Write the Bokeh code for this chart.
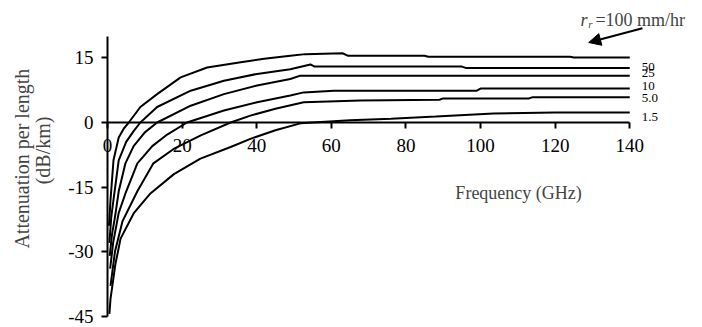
from bokeh.plotting import figure
from bokeh.models import Range1d, FixedTicker, Label, Arrow, NormalHead, PrintfTickFormatter
from bokeh.embed import file_html
from bokeh.resources import INLINE
import math

# ---- data ----
f_100 = [0.4, 0.8, 1.6, 3.0, 4.3, 5.7, 8.8, 13.3, 19.6, 26.7, 35.7, 42.0, 49.0, 53.0, 63.0, 64.5, 85.0, 86.0, 124.0, 125.0, 140.0]
v_100 = [-24.0, -18.0, -8.8, -3.5, -1.5, 0.0, 3.6, 6.6, 10.5, 12.8, 14.0, 14.8, 15.5, 15.9, 16.1, 15.5, 15.5, 15.3, 15.3, 15.1, 15.1]

f_50 = [0.5, 1.0, 1.6, 3.0, 5.0, 7.0, 8.8, 13.3, 22.3, 31.2, 40.1, 49.0, 54.4, 55.5, 95.0, 96.0, 140.0]
v_50 = [-28.0, -22.0, -18.0, -8.8, -4.5, -2.0, 0.0, 3.6, 7.4, 9.7, 11.3, 12.4, 13.5, 13.0, 13.0, 12.7, 12.7]

f_25 = [0.6, 1.2, 2.0, 3.0, 4.8, 7.0, 10.0, 13.3, 22.3, 31.2, 40.1, 49.0, 51.7, 140.0]
v_25 = [-31.0, -26.0, -22.0, -16.0, -9.5, -5.5, -2.3, 0.0, 3.9, 6.6, 8.6, 10.1, 10.9, 10.9]

f_10 = [0.7, 1.5, 3.0, 4.8, 8.0, 12.0, 16.0, 21.3, 31.2, 40.1, 49.0, 52.6, 60.7, 99.0, 100.0, 140.0]
v_10 = [-34.0, -28.0, -21.0, -16.5, -9.5, -5.5, -2.8, 0.0, 2.8, 4.7, 6.3, 7.0, 7.4, 7.4, 7.9, 7.9]

f_5 = [0.8, 2.0, 4.0, 8.0, 12.3, 18.0, 25.0, 33.0, 38.3, 45.0, 52.6, 67.8, 89.0, 90.0, 113.0, 114.0, 140.0]
v_5 = [-38.0, -30.0, -23.0, -16.0, -9.5, -6.0, -3.0, 0.0, 1.6, 3.2, 4.7, 5.1, 5.3, 5.6, 5.6, 5.9, 5.9]

f_15 = [0.5, 0.8, 2.1, 3.5, 7.1, 11.5, 17.8, 24.9, 33.0, 38.3, 45.0, 51.7, 65.0, 76.0, 88.0, 103.5, 120.0, 140.0]
v_15 = [-44.5, -41.0, -33.0, -27.0, -21.0, -16.5, -12.0, -8.4, -5.7, -3.8, -1.8, -0.2, 0.5, 0.9, 1.4, 2.1, 2.3, 2.3]

curve_labels = ["50", "25", "10", "5.0", "1.5"]
curve_label_y = [13.0, 11.6, 8.6, 5.6, 1.2]

x_ticks = [0, 20, 40, 60, 80, 100, 120, 140]
y_ticks = [-45, -30, -15, 0, 15]

FONT = "Liberation Serif"

p = figure(width=702, height=327, output_backend="svg", toolbar_location=None,
           x_range=Range1d(-28.69, 159.5), y_range=Range1d(-47.67, 28.37),
           min_border=0, min_border_left=0, min_border_right=0,
           min_border_top=0, min_border_bottom=0)
p.outline_line_color = None
p.xgrid.visible = False
p.ygrid.visible = False
p.background_fill_color = "white"
p.border_fill_color = "white"

# axes crossing at the origin
xa = p.xaxis[0]
xa.fixed_location = 0
xa.bounds = (0, 140)
xa.ticker = FixedTicker(ticks=x_ticks)
xa.formatter = PrintfTickFormatter(format="%d")
xa.minor_tick_line_color = None
xa.major_tick_in = 0
xa.major_tick_out = 6
xa.axis_line_width = 2
xa.major_tick_line_width = 2
xa.major_label_text_font = FONT
xa.major_label_text_font_size = "19px"
xa.major_label_text_color = "black"
xa.major_label_standoff = 10

ya = p.yaxis[0]
ya.fixed_location = 0
ya.bounds = (-45, 20)
ya.ticker = FixedTicker(ticks=y_ticks)
ya.formatter = PrintfTickFormatter(format="%d")
ya.minor_tick_line_color = None
ya.major_tick_in = 0
ya.major_tick_out = 6
ya.axis_line_width = 2
ya.major_tick_line_width = 2
ya.major_label_text_font = FONT
ya.major_label_text_font_size = "19px"
ya.major_label_text_color = "black"
ya.major_label_standoff = 8

for fx, vy in [(f_100, v_100), (f_50, v_50), (f_25, v_25), (f_10, v_10), (f_5, v_5), (f_15, v_15)]:
    p.line(fx, vy, line_color="black", line_width=2)

for t, yy in zip(curve_labels, curve_label_y):
    p.add_layout(Label(x=143.2, y=yy, text=t, text_font=FONT, text_font_size="13px",
                       text_baseline="middle", text_align="left", text_color="black"))

# axis titles
p.add_layout(Label(x=110.2, y=-16.5, text="Frequency (GHz)", text_font=FONT,
                   text_font_size="18px", text_align="center", text_baseline="middle"))
p.add_layout(Label(x=-22.8, y=-8.4, text="Attenuation per length", text_font=FONT,
                   text_font_size="20px", text_align="center", text_baseline="middle",
                   angle=math.pi / 2))
p.add_layout(Label(x=-17.2, y=-6.5, text="(dB/km)", text_font=FONT,
                   text_font_size="20px", text_align="center", text_baseline="middle",
                   angle=math.pi / 2))

# r_r = 100 mm/hr annotation
p.add_layout(Label(x=126.8, y=23.9, text="r", text_font=FONT, text_font_style="italic",
                   text_font_size="18px", text_baseline="alphabetic"))
p.add_layout(Label(x=128.9, y=23.0, text="r", text_font=FONT, text_font_style="italic",
                   text_font_size="11px", text_baseline="alphabetic"))
p.add_layout(Label(x=130.8, y=23.9, text="=100 mm/hr", text_font=FONT,
                   text_font_size="18px", text_baseline="alphabetic"))
p.add_layout(Arrow(x_start=143.4, y_start=21.9, x_end=129.0, y_end=18.6,
                   line_color="black", line_width=2,
                   end=NormalHead(size=12, fill_color="black", line_color="black")))

open("out.html", "w").write(file_html(p, INLINE))
